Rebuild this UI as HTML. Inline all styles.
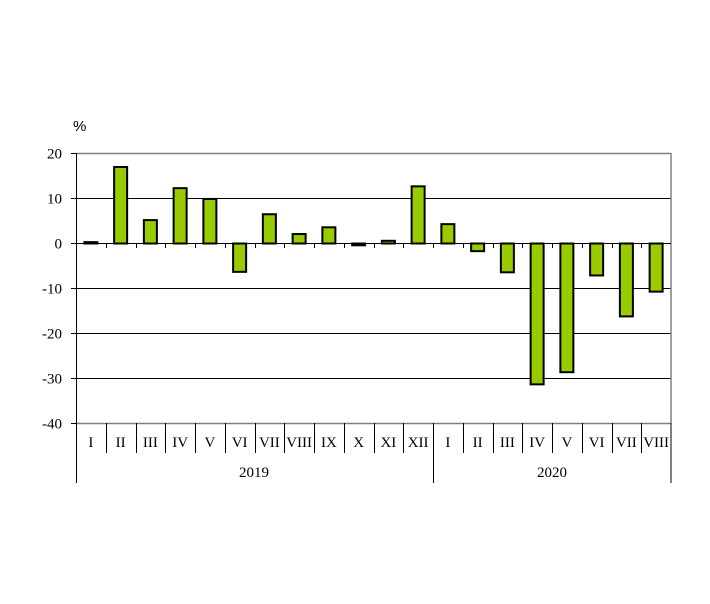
<!DOCTYPE html>
<html><head><meta charset="utf-8"><style>
html,body{margin:0;padding:0;background:#fff;}
svg text{font-family:"Liberation Serif",serif;font-size:15px;fill:#000;}
</style></head><body>
<svg width="710" height="599" viewBox="0 0 710 599" xmlns="http://www.w3.org/2000/svg">
<rect width="710" height="599" fill="#fff"/>
<g stroke="#000" stroke-width="1">
<line x1="76" y1="198.5" x2="671" y2="198.5"/>
<line x1="76" y1="288.5" x2="671" y2="288.5"/>
<line x1="76" y1="333.5" x2="671" y2="333.5"/>
<line x1="76" y1="378.5" x2="671" y2="378.5"/>
</g>
<line x1="76" y1="153.5" x2="671" y2="153.5" stroke="#808080" stroke-width="1.5"/>
<line x1="76" y1="423.5" x2="671" y2="423.5" stroke="#808080" stroke-width="1.5"/>
<line x1="671" y1="153" x2="671" y2="423" stroke="#808080" stroke-width="1.5"/>
<g id="bars" fill="#99cc00" stroke="#000" stroke-width="2"></g>
<line x1="76" y1="243.5" x2="671" y2="243.5" stroke="#000" stroke-width="1"/>
<g id="ticks" stroke="#000" stroke-width="1"></g>
<line x1="76.5" y1="153" x2="76.5" y2="483" stroke="#000" stroke-width="1"/>
<line x1="671" y1="423" x2="671" y2="483" stroke="#000" stroke-width="1"/>
<line x1="433.5" y1="423" x2="433.5" y2="483" stroke="#000" stroke-width="1"/>
<g id="labels"></g>
<text x="73" y="131" style="font-family:'Liberation Sans',sans-serif">%</text>
<text x="254" y="477" text-anchor="middle">2019</text>
<text x="552" y="477" text-anchor="middle">2020</text>
</svg>
<script>
var vals=[0.3,17,5.2,12.3,9.9,-6.3,6.5,2.1,3.6,-0.4,0.6,12.7,4.3,-1.7,-6.4,-31.3,-28.6,-7.1,-16.2,-10.7];
var labs=["I","II","III","IV","V","VI","VII","VIII","IX","X","XI","XII","I","II","III","IV","V","VI","VII","VIII"];
var ns="http://www.w3.org/2000/svg",w=29.75,x0=76,z=243.5;
function el(t,a,p,txt){var e=document.createElementNS(ns,t);for(var k in a)e.setAttribute(k,a[k]);if(txt)e.textContent=txt;document.getElementById(p).appendChild(e);}
vals.forEach(function(v,i){
 var c=x0+w*(i+0.5),h=Math.abs(v)*4.5;
 var y=v>=0?z-h:z;
 el("rect",{x:c-6.5,y:y,width:13,height:Math.max(h,1)},"bars");
 el("text",{x:c,y:447,"text-anchor":"middle"},"labels",labs[i]);
 if(i>0){var bx=Math.round(x0+w*i)+0.5;el("line",{x1:bx,y1:423,x2:bx,y2:453},"ticks");el("line",{x1:bx,y1:243,x2:bx,y2:248},"ticks");}
});
[20,10,0,-10,-20,-30,-40].forEach(function(v){
 var y=243.5-v*4.5;
 el("line",{x1:71,y1:y,x2:76,y2:y},"ticks");
 el("text",{x:62,y:y+5,"text-anchor":"end"},"labels",String(v));
});
</script>
</body></html>
